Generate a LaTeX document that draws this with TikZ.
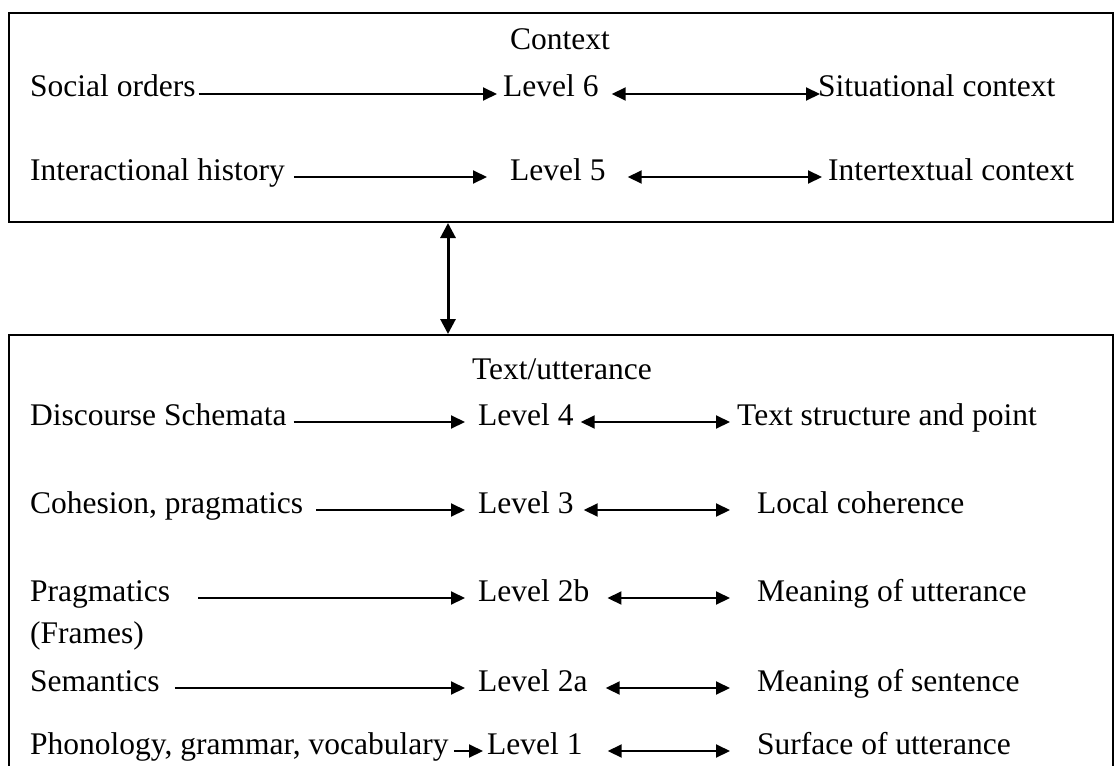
\documentclass[tikz,border=0pt]{standalone}
\usepackage{fontspec}
\setmainfont{Liberation Serif}
\usetikzlibrary{arrows.meta}
\tikzset{
  lbl/.style={inner sep=0pt, anchor=base west, font=\fontsize{31.5pt}{38pt}\selectfont},
  ctr/.style={inner sep=0pt, anchor=base, font=\fontsize{31.5pt}{38pt}\selectfont},
  box/.style={draw, line width=2pt, inner sep=0pt},
  arr/.style={line width=2pt, -{Triangle[length=14pt,width=13pt]}},
  darr/.style={line width=2pt, {Triangle[length=14pt,width=13pt]}-{Triangle[length=14pt,width=13pt]}},
  varr/.style={line width=3pt, {Triangle[length=15pt,width=15pt]}-{Triangle[length=15pt,width=15pt]}}
}
\begin{document}
\begin{tikzpicture}[x=1pt,y=-1pt]
\useasboundingbox (0,0) rectangle (1115,765);
% boxes
\node[box, minimum width=1104pt, minimum height=209pt] (ctx) at (561,117.5) {};
\node[box, minimum width=1104pt, minimum height=465pt] (txt) at (561,567.5) {};
\draw[varr] ([xshift=-113pt]ctx.south) -- ([xshift=-113pt]txt.north);

% Context box
\node[ctr] (ctitle) at (560,50) {Context};
\node[lbl] (so) at (30,97) {Social orders};
\node[lbl] (l6) at (503,97) {Level 6};
\node[lbl] (sc) at (818,97) {Situational context};
\draw[arr] ([xshift=3pt,yshift=3pt]so.base east) -- ([xshift=-6pt,yshift=3pt]l6.base west);
\draw[darr] ([xshift=13pt,yshift=3pt]l6.base east) -- ([xshift=2pt,yshift=3pt]sc.base west);

\node[lbl] (ih) at (30,180) {Interactional history};
\node[lbl] (l5) at (510,180) {Level 5};
\node[lbl] (ic) at (828,180) {Intertextual context};
\draw[arr] ([xshift=9pt,yshift=3pt]ih.base east) -- ([xshift=-23pt,yshift=3pt]l5.base west);
\draw[darr] ([xshift=22pt,yshift=3pt]l5.base east) -- ([xshift=-6pt,yshift=3pt]ic.base west);

% Text/utterance box
\node[ctr] (ttitle) at (562,379) {Text/utterance};

\node[lbl] (ds) at (30,425) {Discourse Schemata};
\node[lbl] (l4) at (478,425) {Level 4};
\node[lbl] (ts) at (737,425) {Text structure and point};
\draw[arr] ([xshift=7pt,yshift=3pt]ds.base east) -- ([xshift=-13pt,yshift=3pt]l4.base west);
\draw[darr] ([xshift=7pt,yshift=3pt]l4.base east) -- ([xshift=-7pt,yshift=3pt]ts.base west);

\node[lbl] (ch) at (30,513) {Cohesion, pragmatics};
\node[lbl] (l3) at (478,513) {Level 3};
\node[lbl] (lc) at (757,513) {Local coherence};
\draw[arr] ([xshift=13pt,yshift=3pt]ch.base east) -- ([xshift=-13pt,yshift=3pt]l3.base west);
\draw[darr] ([xshift=10pt,yshift=3pt]l3.base east) -- ([xshift=-27pt,yshift=3pt]lc.base west);

\node[lbl] (pr) at (30,601) {Pragmatics};
\node[lbl] (fr) at (30,643) {(Frames)};
\node[lbl] (l2b) at (478,601) {Level 2b};
\node[lbl] (mu) at (757,601) {Meaning of utterance};
\draw[arr] ([xshift=28pt,yshift=3pt]pr.base east) -- ([xshift=-13pt,yshift=3pt]l2b.base west);
\draw[darr] ([xshift=18pt,yshift=3pt]l2b.base east) -- ([xshift=-27pt,yshift=3pt]mu.base west);

\node[lbl] (se) at (30,691) {Semantics};
\node[lbl] (l2a) at (478,691) {Level 2a};
\node[lbl] (ms) at (757,691) {Meaning of sentence};
\draw[arr] ([xshift=15pt,yshift=3pt]se.base east) -- ([xshift=-13pt,yshift=3pt]l2a.base west);
\draw[darr] ([xshift=18pt,yshift=3pt]l2a.base east) -- ([xshift=-27pt,yshift=3pt]ms.base west);

\node[lbl] (ph) at (30,754) {Phonology, grammar, vocabulary};
\node[lbl] (l1) at (487,754) {Level 1};
\node[lbl] (su) at (757,754) {Surface of utterance};
\draw[arr] ([xshift=5pt,yshift=3pt]ph.base east) -- ([xshift=-4pt,yshift=3pt]l1.base west);
\draw[darr] ([xshift=25pt,yshift=3pt]l1.base east) -- ([xshift=-27pt,yshift=3pt]su.base west);
\end{tikzpicture}
\end{document}
